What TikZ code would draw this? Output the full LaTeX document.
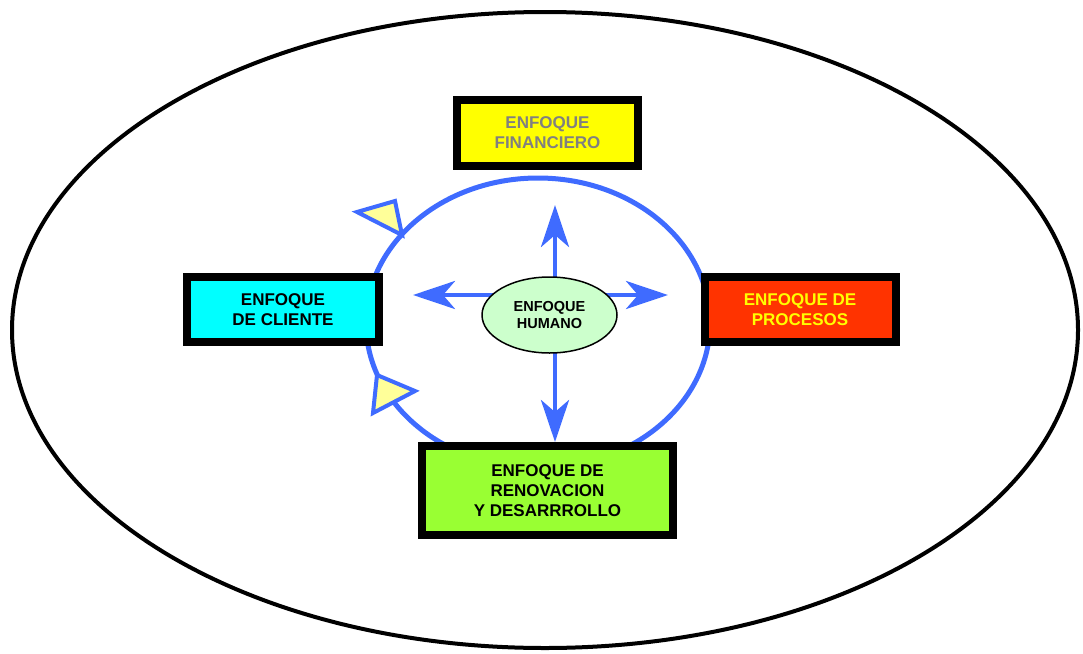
\documentclass[tikz,border=0pt]{standalone}
\usepackage{fontspec}
\setmainfont{Liberation Sans}
\usetikzlibrary{shapes.geometric,arrows.meta,positioning}
\definecolor{azul}{HTML}{3F6BFF}
\definecolor{amarillo}{HTML}{FFFF00}
\definecolor{amarilloclaro}{HTML}{FFFF99}
\definecolor{celeste}{HTML}{00FFFF}
\definecolor{naranja}{HTML}{FF3300}
\definecolor{verdelima}{HTML}{99FF33}
\definecolor{verdeclaro}{HTML}{CCFFCC}
\definecolor{gris}{HTML}{808080}
\tikzset{
    enfoque/.style={rectangle, draw=black, line width=8pt, inner sep=0pt,
                    align=center, font=\fontsize{17}{20}\selectfont\bfseries},
    humano/.style={ellipse, draw, line width=1.5pt, fill=verdeclaro,
                   minimum width=135pt, minimum height=76pt, inner sep=0pt,
                   align=center, font=\fontsize{14.5}{17}\selectfont\bfseries},
    flecha/.style={draw=azul, line width=4.5pt,
                   -{Stealth[length=42pt, width=28pt, inset=12pt]}},
    ciclo/.style={draw=azul, line width=5pt},
    punta/.style={draw=azul, line width=4pt, fill=amarilloclaro, line join=miter},
}
\begin{document}
\begin{tikzpicture}[x=1pt, y=-1pt]
    \useasboundingbox (0,0) rectangle (1083,653);
    % marco exterior
    \draw[line width=4pt] (545,330) ellipse [x radius=533, y radius=318];
    % ciclo con sus puntas
    \draw[ciclo] (538,323) ellipse [x radius=172, y radius=145];
    \draw[punta] (357,212) -- (395,201) -- (402,235) -- cycle;
    \draw[punta] (377,375) -- (415,391) -- (373,413) -- cycle;
    % flechas desde el centro
    \coordinate (eje) at (555,295);
    \coordinate (arriba) at (555,205);
    \coordinate (abajo) at (555,442);
    \coordinate (izq) at (413,295);
    \coordinate (der) at (668,295);
    \draw[flecha] (eje) -- (arriba);
    \draw[flecha] (eje) -- (abajo);
    \draw[flecha] (eje) -- (izq);
    \draw[flecha] (eje) -- (der);
    \node[humano] (hum) at (549.5,315) {ENFOQUE\\HUMANO};
    % enfoques
    \node[enfoque, fill=amarillo, text=gris, minimum width=181pt, minimum height=65.5pt]
        (fin) at (547.5,133) {ENFOQUE\\FINANCIERO};
    \node[enfoque, fill=celeste, minimum width=192pt, minimum height=65pt]
        (cli) at (283,309.5) {ENFOQUE\\DE CLIENTE};
    \node[enfoque, fill=naranja, text=amarillo, minimum width=191pt, minimum height=65pt]
        (pro) at (800,309.5) {ENFOQUE DE\\PROCESOS};
    \node[enfoque, fill=verdelima, minimum width=251pt, minimum height=89pt]
        (ren) at (547.5,490.5) {ENFOQUE DE\\RENOVACION\\Y DESARRROLLO};
\end{tikzpicture}
\end{document}
